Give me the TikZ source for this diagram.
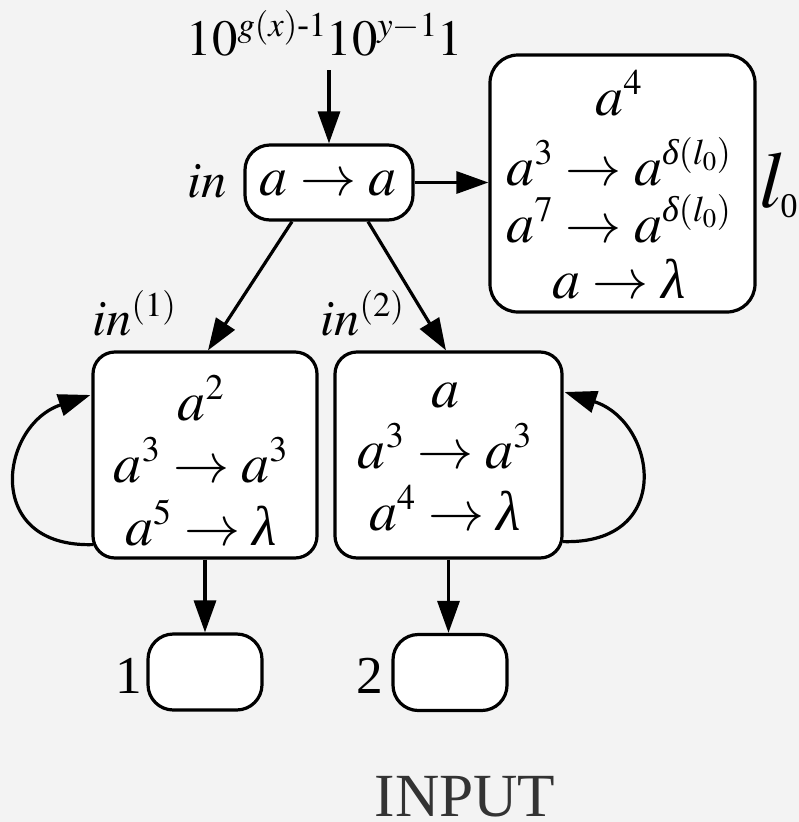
\documentclass[tikz,border=0pt]{standalone}
\usepackage{amsmath}
\usepackage{mathptmx}
\usepackage[no-math]{fontspec}
\setmainfont{Liberation Serif}
\usetikzlibrary{arrows.meta,calc}

% smaller scripts than the default ratio
\DeclareMathSizes{42}{42}{27}{20}
\DeclareMathSizes{38}{38}{26}{19}

% italic Greek letters taken from the text font
\newcommand{\itlambda}{\text{\itshape λ}}
\newcommand{\itdelta}{\text{\itshape δ}}

\definecolor{paper}{RGB}{243,243,243}
\definecolor{captiongray}{RGB}{51,51,51}

\tikzset{
  box/.style={draw, line width=2.4pt, fill=white, inner sep=0pt},
  arr/.style={line width=2.4pt, -{Triangle[length=24pt,width=16.5pt]}},
  rulerow/.style={anchor=base, inner sep=0pt, font=\fontsize{42}{50}\selectfont},
  lab/.style={inner sep=0pt, font=\fontsize{38}{44}\selectfont},
  num/.style={anchor=base, inner sep=0pt, font=\fontsize{40}{46}\selectfont},
}

\begin{document}
\begin{tikzpicture}[x=0.75pt,y=-0.75pt]
  \fill[paper] (0,0) rectangle (799,822);
  \useasboundingbox (0,0) rectangle (799,822);

  % neurons
  \node[box, rounded corners=18.75pt, minimum width=126pt, minimum height=56.25pt] (inbox) at (329,182.5) {};
  \node[box, rounded corners=21pt, minimum width=198.75pt, minimum height=192.75pt] (l0box) at (622.5,183.5) {};
  \node[box, rounded corners=16.5pt, minimum width=168pt, minimum height=154.5pt] (box1) at (205,455) {};
  \node[box, rounded corners=16.5pt, minimum width=170.25pt, minimum height=154.5pt] (box2) at (448.5,455) {};
  \node[box, rounded corners=19pt, minimum width=85.5pt, minimum height=57pt] (out1) at (205,672) {};
  \node[box, rounded corners=19pt, minimum width=85.5pt, minimum height=57pt] (out2) at (450,672.5) {};

  % rules inside the neurons
  \node[rulerow] (inrule) at (328,195) {$a\rightarrow a$};

  \node[rulerow] (l0r1) at (619,115) {$a^4$};
  \node[rulerow] (l0r2) at (619,185) {$a^3\rightarrow a^{\itdelta(l_0)}$};
  \node[rulerow] (l0r3) at (619,242) {$a^7\rightarrow a^{\itdelta(l_0)}$};
  \node[rulerow] (l0r4) at (619,298) {$a\rightarrow\itlambda$};

  \node[rulerow] (b1r1) at (201,420) {$a^2$};
  \node[rulerow] (b1r2) at (201,482) {$a^3\rightarrow a^3$};
  \node[rulerow] (b1r3) at (201,545) {$a^5\rightarrow\itlambda$};

  \node[rulerow] (b2r1) at (445,407) {$a$};
  \node[rulerow] (b2r2) at (445,468) {$a^3\rightarrow a^3$};
  \node[rulerow] (b2r3) at (445,530) {$a^4\rightarrow\itlambda$};

  % labels
  \node[anchor=base, inner sep=0pt, font=\fontsize{38}{44}\selectfont] (topin) at (325,55)
    {$10^{g(x)\text{-}1}10^{y-1}1$};
  \node[lab, anchor=base] (inlab) at (207,197) {$in$};
  \node[lab, anchor=base west] (in1lab) at (92,335) {$in^{(1)}$};
  \node[lab, anchor=base west] (in2lab) at (320,335) {$in^{(2)}$};
  \node[anchor=base west, inner sep=0pt] (l0lab) at (759,207)
    {{\fontsize{60}{60}\selectfont$l$}\kern-4pt\raisebox{-7.5pt}{\fontsize{26}{26}\selectfont 0}};
  \node[num] (out1lab) at (129,693) {1};
  \node[num] (out2lab) at (370,693) {2};
  \node[anchor=base, inner sep=0pt, text depth=0pt, text=captiongray, font=\fontsize{46}{46}\selectfont] (caption) at (465,816) {INPUT};

  % synapses
  \draw[arr] ($(topin.base -| inbox.north)+(0,15)$) -- (inbox.north);
  \draw[arr] (inbox.east) -- (inbox.east -| l0box.west);
  \draw[arr] ($(inbox.south)+(-37,0)$) -- ($(box1.north)+(3,0)$);
  \draw[arr] ($(inbox.south)+(39,0)$) -- ($(box2.north)+(-2.5,0)$);
  \draw[arr] (box1.south) -- (out1.north);
  \draw[arr] (box2.south) -- (box2.south |- out2.north);

  % self loops
  \draw[arr] ($(box1.south west)+(2,-15)$) .. controls (-18,548) and (0,425) .. ($(box1.west)+(-1,-60)$);
  \draw[arr] ($(box2.south east)+(-1,-18)$) .. controls (675,545) and (657,422) .. ($(box2.east)+(1,-63)$);
\end{tikzpicture}
\end{document}
